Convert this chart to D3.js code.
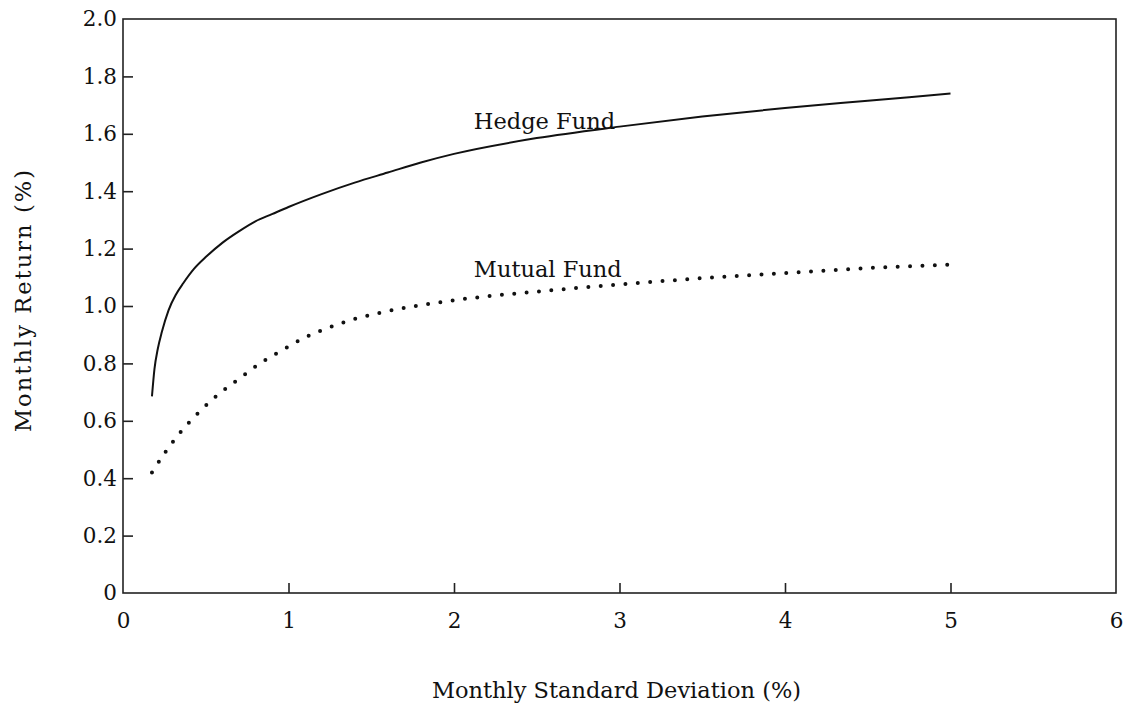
<!DOCTYPE html>
<html>
<head>
<meta charset="utf-8">
<script src="https://cdn.jsdelivr.net/npm/d3@7"></script>
<style>
  html, body { margin: 0; padding: 0; background: #fff; }
  svg { display: block; }
  text { font-family: "DejaVu Serif", "Liberation Serif", serif; fill: #111; }
</style>
</head>
<body>
<svg id="chart" width="1124" height="708"></svg>
<script>
// ---- data ----
const hedgeX = [0.175, 0.19, 0.21, 0.235, 0.275, 0.32, 0.365, 0.43, 0.505, 0.6, 0.7, 0.8, 0.9, 1.0, 1.2, 1.4, 1.6, 1.8, 2.0, 2.5, 3.0, 3.5, 4.0, 4.5, 5.0];
const hedgeY = [0.685, 0.78, 0.85, 0.91, 0.985, 1.04, 1.08, 1.13, 1.173, 1.22, 1.26, 1.295, 1.32, 1.345, 1.39, 1.43, 1.465, 1.50, 1.53, 1.585, 1.625, 1.66, 1.69, 1.715, 1.74];
const mutualX = [0.175, 0.26, 0.354, 0.461, 0.576, 0.70, 0.825, 0.958, 1.091, 1.236, 1.377, 1.528, 2.0, 2.5, 3.0, 3.5, 4.0, 4.5, 5.02];
const mutualY = [0.42, 0.494, 0.565, 0.631, 0.692, 0.746, 0.799, 0.845, 0.888, 0.923, 0.951, 0.973, 1.02, 1.05, 1.075, 1.097, 1.115, 1.132, 1.145];
const xTicks = [0, 1, 2, 3, 4, 5, 6];
const yTicks = [0, 0.2, 0.4, 0.6, 0.8, 1.0, 1.2, 1.4, 1.6, 1.8, 2.0];
const seriesLabels = ["Hedge Fund", "Mutual Fund"];
const labelPos = [[2.12, 1.615], [2.12, 1.10]];
const xTitle = "Monthly Standard Deviation (%)";
const yTitle = "Monthly Return (%)";

// ---- layout ----
const svg = d3.select("#chart");
const L = 123, R = 1116, T = 19, B = 593;
const x = d3.scaleLinear().domain([0, 6]).range([L, R]);
const y = d3.scaleLinear().domain([0, 2]).range([B, T]);

const axisColor = "#222";

// frame
svg.append("rect")
  .attr("x", L).attr("y", T).attr("width", R - L).attr("height", B - T)
  .attr("fill", "none").attr("stroke", axisColor).attr("stroke-width", 1.6);

// x axis (ticks inward)
const gx = svg.append("g").attr("transform", `translate(0,${B})`)
  .call(d3.axisBottom(x).tickValues(xTicks).tickSizeInner(-10).tickSizeOuter(0)
    .tickPadding(20).tickFormat(d3.format("d")));
gx.select(".domain").remove();
gx.selectAll(".tick line").attr("stroke", axisColor).attr("stroke-width", 1.6);
gx.selectAll(".tick line").filter(d => d === 0 || d === 6).remove();
gx.selectAll(".tick text").attr("font-size", 21.5).attr("font-family", "DejaVu Serif").attr("fill", "#111");

// y axis (ticks inward)
const gy = svg.append("g").attr("transform", `translate(${L},0)`)
  .call(d3.axisLeft(y).tickValues(yTicks).tickSizeInner(-10).tickSizeOuter(0)
    .tickPadding(6).tickFormat(d => d === 0 ? "0" : d3.format(".1f")(d)));
gy.select(".domain").remove();
gy.selectAll(".tick line").attr("stroke", axisColor).attr("stroke-width", 1.6);
gy.selectAll(".tick line").filter(d => d === 0 || d === 2).remove();
gy.selectAll(".tick text").attr("font-size", 21.5).attr("font-family", "DejaVu Serif").attr("fill", "#111");

// lines
const hedge = hedgeX.map((v, i) => [v, hedgeY[i]]);
const mutual = mutualX.map((v, i) => [v, mutualY[i]]);
const line = d3.line().x(d => x(d[0])).y(d => y(d[1])).curve(d3.curveMonotoneX);

svg.append("path").datum(hedge).attr("d", line)
  .attr("fill", "none").attr("stroke", "#111").attr("stroke-width", 2);

svg.append("path").datum(mutual).attr("d", line)
  .attr("fill", "none").attr("stroke", "#111").attr("stroke-width", 4)
  .attr("stroke-linecap", "round").attr("stroke-dasharray", "0,12.4");

// series labels
svg.selectAll("text.series").data(seriesLabels).enter().append("text")
  .attr("class", "series")
  .attr("x", (d, i) => x(labelPos[i][0]))
  .attr("y", (d, i) => y(labelPos[i][1]))
  .attr("font-size", 22.5)
  .text(d => d);

// axis titles
svg.append("text")
  .attr("x", (L + R) / 2 - 3).attr("y", 698)
  .attr("text-anchor", "middle").attr("font-size", 22.5)
  .text(xTitle);

svg.append("text")
  .attr("transform", `translate(31,301) rotate(-90)`)
  .attr("text-anchor", "middle").attr("font-size", 22.5)
  .attr("textLength", 262).attr("lengthAdjust", "spacing")
  .text(yTitle);
</script>
</body>
</html>
